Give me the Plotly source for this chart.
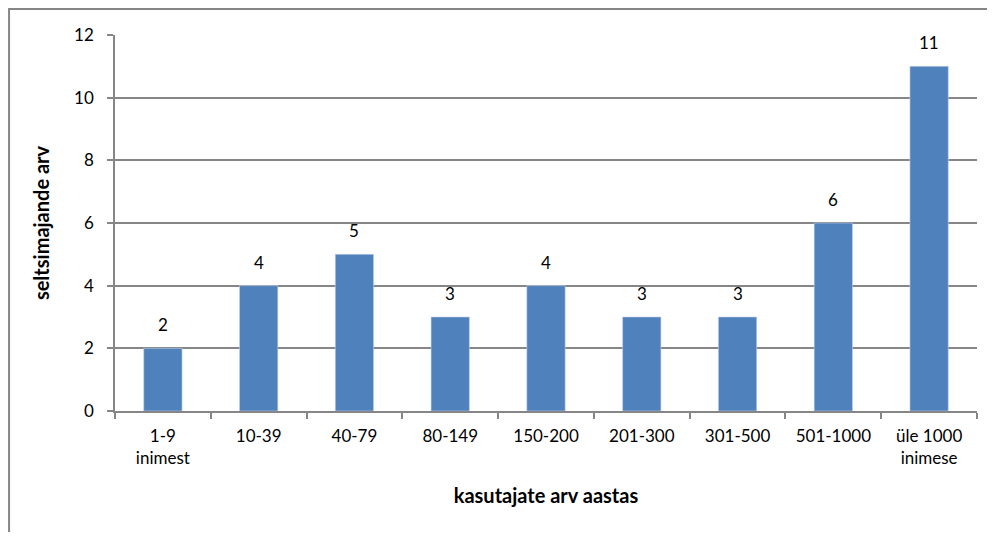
import plotly.graph_objects as go

# andmed
kategooriad = ['1-9<br>inimest', '10-39', '40-79', '80-149', '150-200',
               '201-300', '301-500', '501-1000', 'üle 1000<br>inimese']
seltsimajad = [2, 4, 5, 3, 4, 3, 3, 6, 11]
y_tikid = [0, 2, 4, 6, 8, 10, 12]

FONT = 'Lato, Open Sans, sans-serif'
HALL = '#868686'

fig = go.Figure()
fig.add_trace(go.Bar(
    x=kategooriad, y=seltsimajad,
    marker=dict(color='#4F81BD', line=dict(color='#C6D4E8', width=0.6)),
    width=0.4,
))

# väärtused tulpade kohal
for k, v in zip(kategooriad, seltsimajad):
    fig.add_annotation(x=k, y=v, text=str(v), showarrow=False,
                       yanchor='bottom', yshift=11,
                       font=dict(family=FONT, size=17, color='#000000'))

# brauseri body-veeris (8px) lahutatud
fig.update_layout(
    width=979, height=524,
    margin=dict(l=107, r=10, t=27, b=121),
    paper_bgcolor='white', plot_bgcolor='white',
    showlegend=False,
    font=dict(family=FONT, size=17, color='#000000'),
    bargap=0.6,
)

fig.update_xaxes(
    automargin=False,
    showline=True, linecolor=HALL, linewidth=1.5,
    ticks='outside', tickson='boundaries', ticklen=6, tickcolor=HALL, tickwidth=1.5,
    ticklabelstandoff=9,
    tickfont=dict(family=FONT, size=17),
    title=dict(text='<b>kasutajate arv aastas</b>', font=dict(family=FONT, size=20), standoff=22),
)
fig.update_yaxes(
    automargin=False,
    range=[0, 12], tickvals=y_tikid,
    showgrid=True, gridcolor=HALL, gridwidth=1.5,
    showline=True, linecolor=HALL, linewidth=1.5,
    ticks='outside', ticklen=6, tickcolor=HALL, tickwidth=1.5,
    ticklabelstandoff=10,
    tickfont=dict(family=FONT, size=17),
    title=dict(text='<b>seltsimajande arv</b>', font=dict(family=FONT, size=20), standoff=19),
    zeroline=False,
)

# diagrammi raam
fig.add_shape(type='rect', xref='paper', yref='paper',
              x0=-0.1229, x1=1.1, y0=-0.5, y1=1.0691,
              line=dict(color=HALL, width=2), layer='below')

fig.write_html("out.html")
